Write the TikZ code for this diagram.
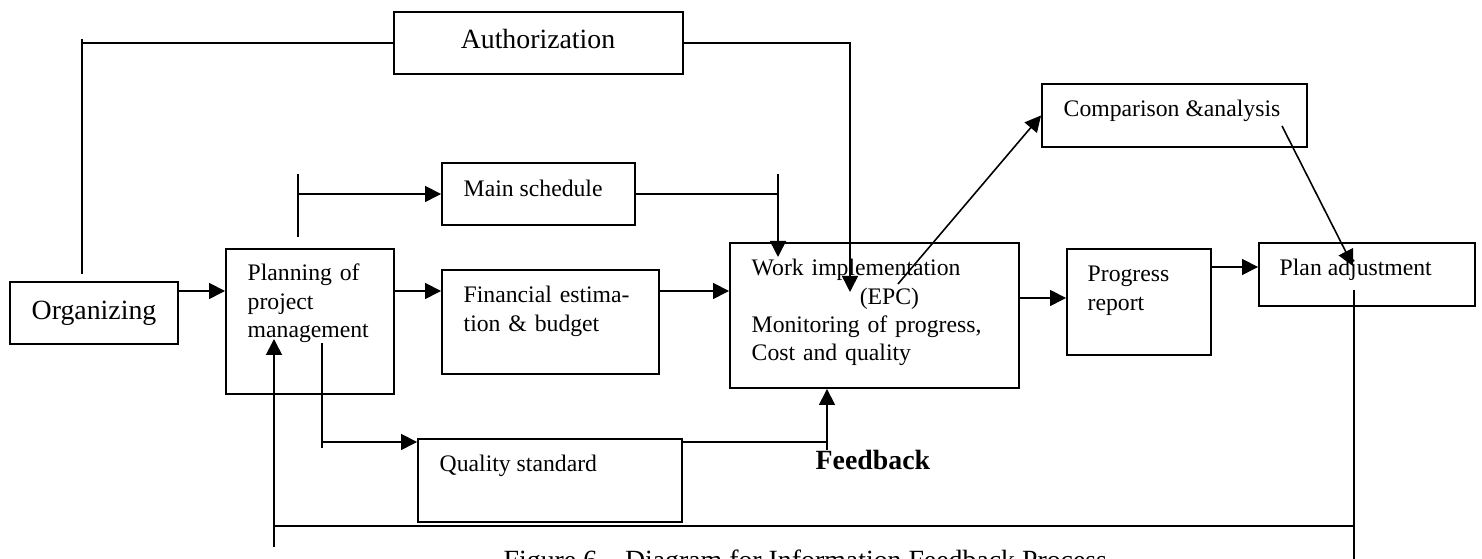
\documentclass[tikz,border=0pt]{standalone}
\usepackage{fontspec}
\setmainfont{Liberation Serif}
\usetikzlibrary{arrows.meta,fit}

\begin{document}
\begin{tikzpicture}[x=0.01cm,y=-0.01cm,
    box/.style={draw,line width=0.55pt,inner sep=0pt},
    txt/.style={inner sep=0pt,anchor=base west,align=left,font=\fontsize{6.74pt}{7.97pt}\selectfont},
    big/.style={inner sep=0pt,anchor=base,font=\fontsize{7.91pt}{9.5pt}\selectfont},
    line/.style={line width=0.45pt},
    arr/.style={line width=0.45pt,-{Triangle[length=0.16cm,width=0.16cm]}}]
  \useasboundingbox (0,0) rectangle (1482,559);

  % boxes
  \node[box,fit={(394,12) (683,74)}] (auth) {};
  \node[box,fit={(10,282) (178,344)}] (org) {};
  \node[box,fit={(226,249) (394,394)}] (plan) {};
  \node[box,fit={(442,163) (635,225)}] (main) {};
  \node[box,fit={(442,270) (659,374)}] (fin) {};
  \node[box,fit={(730,243) (1019,388)}] (work) {};
  \node[box,fit={(418,439) (682,522)}] (qual) {};
  \node[box,fit={(1042,84) (1307,147)}] (comp) {};
  \node[box,fit={(1067,249) (1211,355)}] (prog) {};
  \node[box,fit={(1259,243) (1475,306)}] (adj) {};

  % texts
  \node[big] (auth-t) at (538,49) {Authorization};
  \node[big] (org-t) at (94,320) {Organizing};
  \node[txt,text width=1.5cm] (plan-t) at (247,281) {Planning of\\project\\management};
  \node[txt] (main-t) at (463,197) {Main schedule};
  \node[txt,text width=2cm] (fin-t) at (463,303) {Financial estima-\\tion \& budget};
  \node[txt,text width=2.6cm] (work-t) at (751,276) {Work implementation\\\hspace*{1.08cm}(EPC)\\Monitoring of progress,\\Cost and quality};
  \node[txt] (qual-t) at (439,472) {Quality standard};
  \node[txt] (comp-t) at (1063,117) {Comparison \&analysis};
  \node[txt,text width=1.2cm] (prog-t) at (1087,282) {Progress\\report};
  \node[txt] (adj-t) at (1279,276) {Plan adjustment};
  \node[big,anchor=base west,font=\fontsize{7.91pt}{9.5pt}\selectfont\bfseries] (fb-t) at (815,470) {Feedback};
  \node[big,anchor=base west] (cap) at (503,570) {Figure 6 -- Diagram for Information Feedback Process};

  % rows of the connectors
  \coordinate (row1) at (0,291);
  \coordinate (row2) at (0,298);
  \coordinate (row3) at (0,267);
  \coordinate (qs-row) at (0,442);
  \coordinate (fb-row) at (0,526);

  % organizing -> authorization -> work
  \coordinate (org-a) at (82,274);
  \coordinate (org-b) at (82,39);
  \coordinate (auth-in) at (850,292);
  \draw[line] (org-a) -- (org-b);
  \draw[line] (auth.west) -- (auth.west -| org-a);
  \draw[arr] (auth.east) -| (auth-in);

  % main schedule
  \coordinate (ms-a) at (298,174);
  \coordinate (ms-b) at (298,237);
  \coordinate (ms-c) at (778,174);
  \coordinate (ms-in) at (778,257);
  \draw[line] (ms-a) -- (ms-b);
  \draw[arr] (main.west -| ms-a) -- (main.west);
  \draw[line] (main.east) -- (main.east -| ms-c);
  \draw[arr] (ms-c) -- (ms-in);

  % middle row
  \draw[arr] (org.east |- row1) -- (plan.west |- row1);
  \draw[arr] (plan.east |- row1) -- (fin.west |- row1);
  \draw[arr] (fin.east |- row1) -- (work.west |- row1);

  % quality standard
  \coordinate (qs-a) at (322,343);
  \coordinate (qs-b) at (322,448);
  \coordinate (fb-a) at (827,450);
  \draw[line] (qs-a) -- (qs-b);
  \draw[arr] (qs-a |- qs-row) -- (qual.west |- qs-row);
  \draw[line] (qual.east |- qs-row) -- (fb-a |- qs-row);
  \draw[arr] (fb-a) -- (work.south -| fb-a);

  % comparison and adjustment
  \coordinate (cmp-a) at (898,284);
  \coordinate (cmp-b) at (1282,126);
  \coordinate (cmp-c) at (1353,266);
  \draw[arr] (cmp-a) -- (comp.west);
  \draw[arr] (cmp-b) -- (cmp-c);
  \draw[arr] (work.east |- row2) -- (prog.west |- row2);
  \draw[arr] (prog.east |- row3) -- (adj.west |- row3);

  % feedback loop
  \coordinate (loop-a) at (1354,290);
  \coordinate (loop-b) at (1354,559);
  \coordinate (loop-c) at (274,547);
  \coordinate (loop-d) at (274,339);
  \draw[line] (loop-a) -- (loop-b);
  \draw[line] (loop-a |- fb-row) -- (loop-c |- fb-row);
  \draw[arr] (loop-c) -- (loop-d);
\end{tikzpicture}
\end{document}
